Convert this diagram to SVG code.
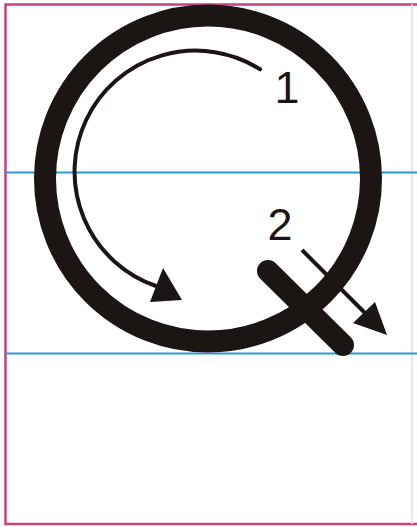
<svg xmlns="http://www.w3.org/2000/svg" width="417" height="527" viewBox="0 0 417 527">
  <style>
    .guide { stroke: #2c9ad2; stroke-width: 2; fill: none; }
    .border { stroke: #c9407f; stroke-width: 2.5; fill: none; }
    .ink { stroke: #1b1614; fill: none; }
    .head { fill: #1b1614; stroke: none; }
    .lbl { font-family: "Liberation Sans", Arial, sans-serif; font-size: 45px; fill: #1b1614; text-anchor: middle; }
  </style>
  <rect x="0" y="0" width="417" height="527" fill="#ffffff"/>
  <g id="page">
    <path class="border" d="M418,4.5 H5.5 V524 H418"/>
    <line x1="412" y1="4" x2="412" y2="524" stroke="#f6d3e6" stroke-width="1.5"/>
    <line class="guide" x1="6" y1="172.5" x2="417" y2="172.5"/>
    <line class="guide" x1="6" y1="353.5" x2="417" y2="353.5"/>
  </g>
  <g id="ring">
    <circle class="ink" cx="208" cy="178.5" r="163" stroke-width="22"/>
  </g>
  <g id="tail">
    <line class="ink" x1="268" y1="271" x2="343" y2="345" stroke-width="22" stroke-linecap="round"/>
  </g>
  <g id="connectors">
    <path class="ink" d="M260.1,69.3 A121,121 0 1 0 156,286" stroke-width="4" stroke-linecap="round"/>
    <polygon class="head" points="182,300 163,268 150,302"/>
    <line class="ink" x1="302" y1="250" x2="366" y2="314" stroke-width="4"/>
    <polygon class="head" points="387,335 375,302 353,323"/>
  </g>
  <g id="label1"><text class="lbl" x="287" y="103">1</text></g>
  <g id="label2"><text class="lbl" x="280" y="240">2</text></g>
</svg>
